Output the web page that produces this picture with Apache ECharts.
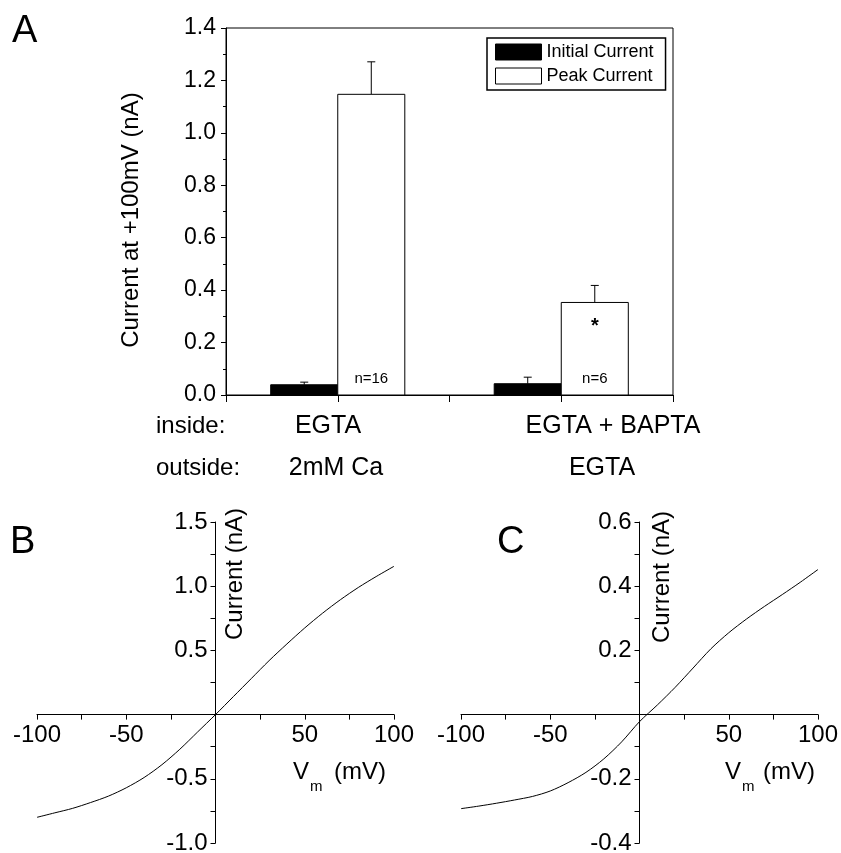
<!DOCTYPE html>
<html>
<head>
<meta charset="utf-8">
<script src="https://cdn.jsdelivr.net/npm/echarts@6/dist/echarts.min.js"></script>
<style>
  html, body { margin: 0; padding: 0; background: #fff; }
  #main { width: 841px; height: 853px; }
</style>
</head>
<body>
<div id="main"></div>
<script>
// panel A: current at +100 mV
var groupPos = [1, 3];
var insideLabels = ['EGTA', 'EGTA + BAPTA'];
var outsideLabels = ['2mM Ca', 'EGTA'];
var initialMean = [0.039, 0.043];
var initialSem = [0.010, 0.025];
var peakMean = [1.147, 0.353];
var peakSem = [0.124, 0.065];
var nLabels = ['n=16', 'n=6'];
var sigMarks = ['', '*'];

// panels B and C: I-V curves
var ivVoltage = [-100, -90, -80, -70, -60, -50, -40, -30, -20, -10, 0, 10, 20, 30, 40, 50, 60, 70, 80, 90, 100];
var ivCurrentB = [-0.80, -0.765, -0.73, -0.685, -0.635, -0.57, -0.49, -0.39, -0.27, -0.135, 0.0, 0.14, 0.28, 0.42, 0.55, 0.675, 0.79, 0.895, 0.99, 1.075, 1.155];
var ivCurrentC = [-0.293, -0.285, -0.276, -0.266, -0.255, -0.238, -0.212, -0.180, -0.138, -0.085, -0.022, 0.030, 0.085, 0.145, 0.205, 0.255, 0.298, 0.337, 0.374, 0.412, 0.452];

var FONT = 'Liberation Sans, Arial, sans-serif';
var myChart = echarts.init(document.getElementById('main'));

function barRenderer(fill, extra) {
    return function (params, api) {
        var i = params.dataIndex;
        var x = api.value(0), y = api.value(1), e = api.value(2);
        var p0 = api.coord([x - 0.3, 0]);
        var p1 = api.coord([x + 0.3, y]);
        var mid = api.coord([x, y]);
        var top = api.coord([x, y + e]);
        var kids = [
            { type: 'line', shape: { x1: mid[0], y1: mid[1], x2: top[0], y2: top[1] }, style: { stroke: '#000', lineWidth: 1 } },
            { type: 'line', shape: { x1: top[0] - 4, y1: top[1], x2: top[0] + 4, y2: top[1] }, style: { stroke: '#000', lineWidth: 1 } },
            { type: 'rect', shape: { x: p0[0], y: p1[1], width: p1[0] - p0[0], height: p0[1] - p1[1] }, style: { fill: fill, stroke: '#000', lineWidth: 1 } }
        ];
        if (extra) {
            kids.push({ type: 'text', x: mid[0], y: p0[1] - 16, style: { text: nLabels[i], textAlign: 'center', textVerticalAlign: 'middle', font: '15px ' + FONT, fill: '#000' } });
            if (sigMarks[i]) {
                kids.push({ type: 'text', x: mid[0], y: mid[1] + 24, style: { text: sigMarks[i], textAlign: 'center', textVerticalAlign: 'middle', font: 'bold 20px ' + FONT, fill: '#000' } });
            }
        }
        return { type: 'group', children: kids };
    };
}

function tickFmt(digits) {
    return function (v) {
        if (Math.abs(v) < 1e-9) return '';
        return digits ? v.toFixed(digits) : String(v);
    };
}

// axes cross at zero: move them in with offset
function ivXAxis(idx, off) {
    return {
        gridIndex: idx, type: 'value', min: -100, max: 100, interval: 50, offset: off,
        axisLine: { onZero: false, lineStyle: { color: '#000', width: 1 } },
        axisTick: { length: 5, lineStyle: { color: '#000' } },
        minorTick: { show: true, splitNumber: 2, length: 5, lineStyle: { color: '#000' } },
        axisLabel: { formatter: tickFmt(0), color: '#000', fontSize: 24, fontFamily: FONT, margin: 9 },
        splitLine: { show: false }
    };
}

function ivYAxis(idx, min, max, step, off) {
    return {
        gridIndex: idx, type: 'value', min: min, max: max, interval: step, offset: off,
        axisLine: { show: true, onZero: false, lineStyle: { color: '#000', width: 1 } },
        axisTick: { show: true, length: 5, lineStyle: { color: '#000' } },
        minorTick: { show: true, splitNumber: 2, length: 5, lineStyle: { color: '#000' } },
        axisLabel: { formatter: tickFmt(1), color: '#000', fontSize: 24, fontFamily: FONT, margin: 8 },
        splitLine: { show: false }
    };
}

function txt(x, y, s, size, opts) {
    var st = { text: s, font: size + 'px ' + FONT, fill: '#000', textAlign: 'left', textVerticalAlign: 'middle' };
    opts = opts || {};
    if (opts.align) st.textAlign = opts.align;
    var el = { type: 'text', x: x, y: y, style: st, z: 100 };
    if (opts.rotate) el.rotation = opts.rotate;
    return el;
}

var option = {
    animation: false,
    backgroundColor: '#fff',
    grid: [
        { left: 226, right: 168, top: 28, bottom: 458, show: true, borderColor: '#000', borderWidth: 1, outerBoundsMode: 'none' },
        { left: 37, right: 447, top: 522, bottom: 10, outerBoundsMode: 'none' },
        { left: 461, right: 23, top: 522, bottom: 10, outerBoundsMode: 'none' }
    ],
    legend: {
        left: 487, top: 38, orient: 'vertical',
        padding: [5, 12, 5, 8], itemGap: 6, itemWidth: 46, itemHeight: 16,
        borderColor: '#000', borderWidth: 1.5, icon: 'rect',
        textStyle: { fontSize: 18, fontFamily: FONT, color: '#000' },
        data: [
            { name: 'Initial Current', itemStyle: { color: '#000', borderColor: '#000', borderWidth: 1 } },
            { name: 'Peak Current', itemStyle: { color: '#fff', borderColor: '#000', borderWidth: 1 } }
        ]
    },
    xAxis: [
        {
            gridIndex: 0, type: 'value', min: 0, max: 4, interval: 1,
            axisLine: { lineStyle: { color: '#000' } },
            axisTick: { length: 7, lineStyle: { color: '#000' } },
            axisLabel: { show: false },
            splitLine: { show: false }
        },
        ivXAxis(1, -128.4),
        ivXAxis(2, -128.4)
    ],
    yAxis: [
        {
            gridIndex: 0, type: 'value', min: 0, max: 1.4, interval: 0.2,
            axisLine: { show: true, lineStyle: { color: '#000' } },
            axisTick: { show: true, length: 5, lineStyle: { color: '#000' } },
            minorTick: { show: true, splitNumber: 2, length: 3, lineStyle: { color: '#000' } },
            axisLabel: { formatter: function (v) { return v.toFixed(1); }, color: '#000', fontSize: 23, fontFamily: FONT, margin: 10 },
            splitLine: { show: false }
        },
        ivYAxis(1, -1.0, 1.5, 0.5, -178.5),
        ivYAxis(2, -0.4, 0.6, 0.2, -178.5)
    ],
    series: [
        {
            name: 'Initial Current', type: 'custom', xAxisIndex: 0, yAxisIndex: 0,
            itemStyle: { color: '#000' },
            renderItem: barRenderer('#000', false),
            data: groupPos.map(function (g, i) { return [g - 0.3, initialMean[i], initialSem[i]]; })
        },
        {
            name: 'Peak Current', type: 'custom', xAxisIndex: 0, yAxisIndex: 0,
            itemStyle: { color: '#fff', borderColor: '#000' },
            renderItem: barRenderer('#fff', true),
            data: groupPos.map(function (g, i) { return [g + 0.3, peakMean[i], peakSem[i]]; })
        },
        {
            type: 'line', xAxisIndex: 1, yAxisIndex: 1, showSymbol: false, smooth: 0.3,
            lineStyle: { color: '#000', width: 1 },
            data: ivVoltage.map(function (v, i) { return [v, ivCurrentB[i]]; })
        },
        {
            type: 'line', xAxisIndex: 2, yAxisIndex: 2, showSymbol: false, smooth: 0.3,
            lineStyle: { color: '#000', width: 1 },
            data: ivVoltage.map(function (v, i) { return [v, ivCurrentC[i]]; })
        }
    ],
    graphic: [
        txt(12, 32, 'A', 38),
        txt(10, 543, 'B', 38),
        txt(497, 543, 'C', 38),
        txt(131, 220, 'Current at +100mV (nA)', 24, { align: 'center', rotate: Math.PI / 2 }),
        txt(156, 426, 'inside:', 24),
        txt(156, 468, 'outside:', 24),
        txt(328, 426, insideLabels[0], 25, { align: 'center' }),
        txt(336, 468, outsideLabels[0], 25, { align: 'center' }),
        txt(613, 426, insideLabels[1], 25, { align: 'center' }),
        txt(602, 468, outsideLabels[1], 25, { align: 'center' }),
        // B axis titles
        txt(235, 574, 'Current (nA)', 24, { align: 'center', rotate: Math.PI / 2 }),
        txt(293, 772, 'V', 24),
        txt(310, 787, 'm', 15),
        txt(334, 772, '(mV)', 24),
        // C axis titles
        txt(662, 577, 'Current (nA)', 24, { align: 'center', rotate: Math.PI / 2 }),
        txt(725, 772, 'V', 24),
        txt(742, 787, 'm', 15),
        txt(763, 772, '(mV)', 24)
    ]
};
myChart.setOption(option);
</script>
</body>
</html>
